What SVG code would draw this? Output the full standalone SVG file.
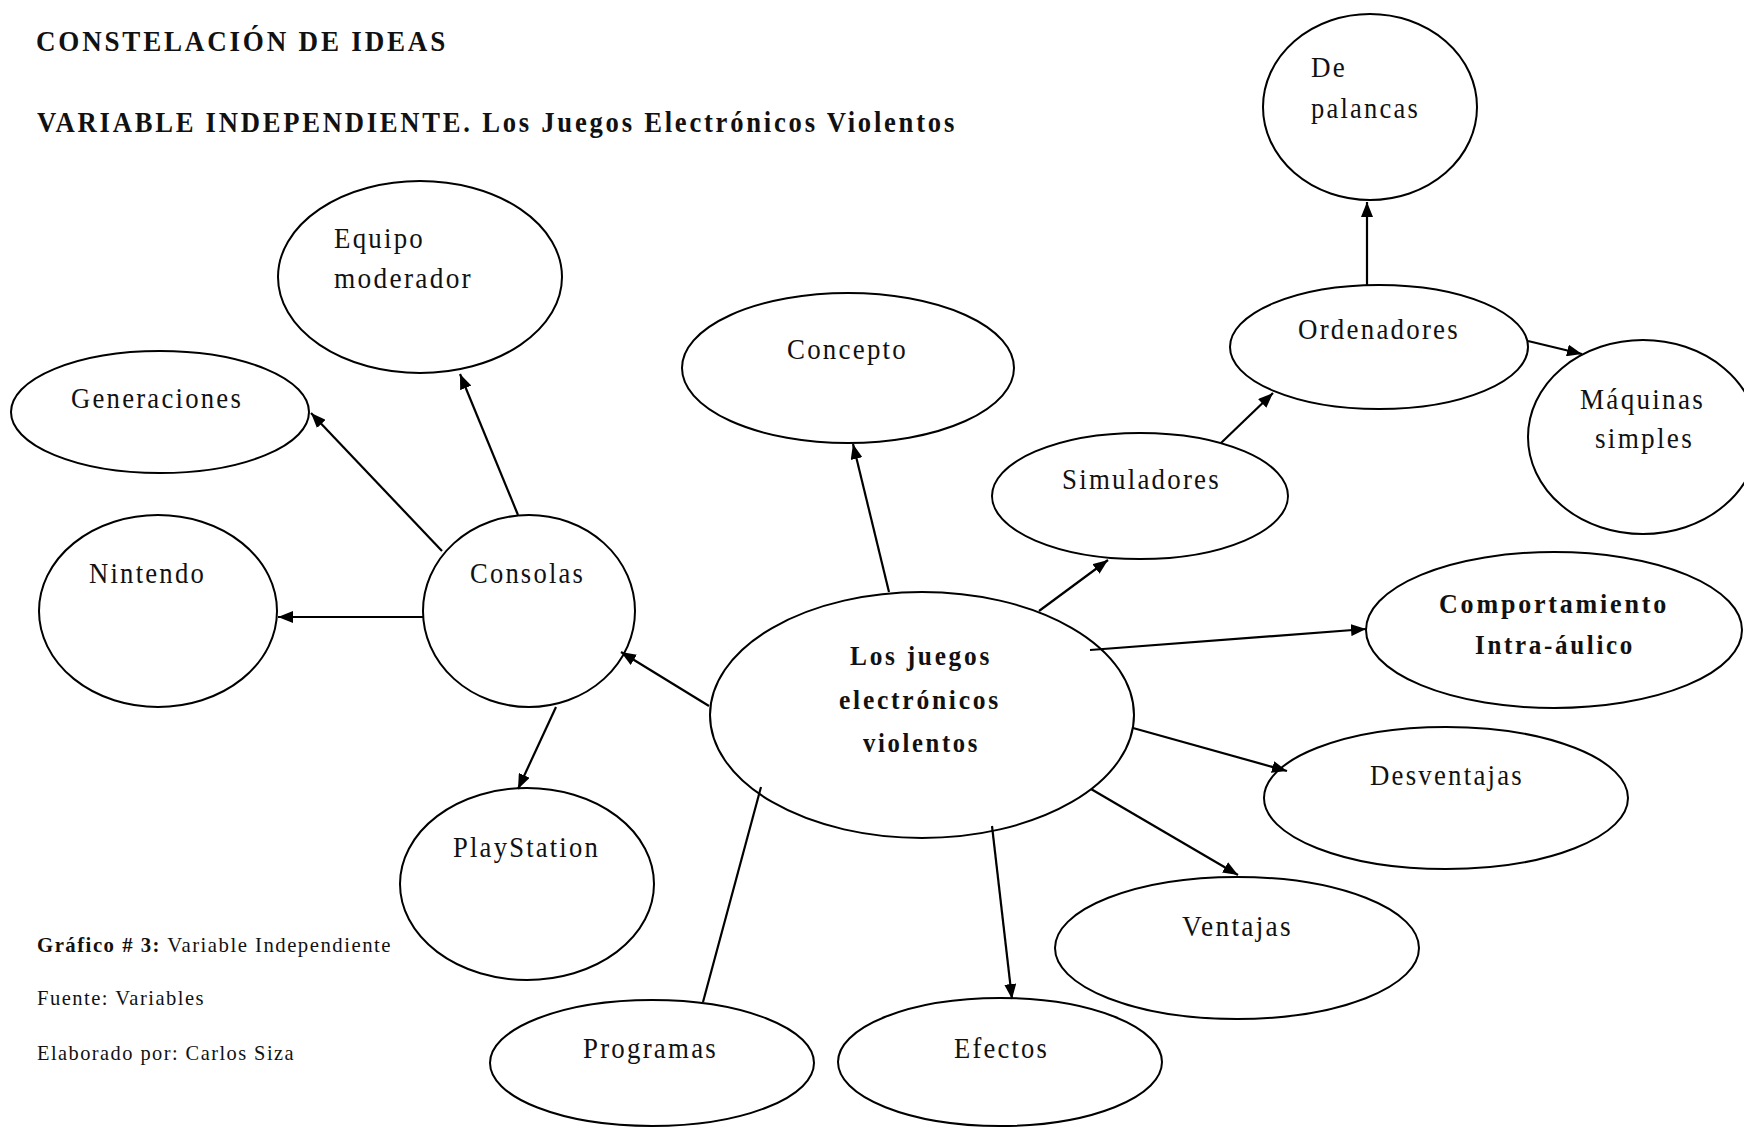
<svg xmlns="http://www.w3.org/2000/svg" width="1744" height="1128" viewBox="0 0 1744 1128">
<defs>
<style>
.n{fill:#fff;stroke:#000;stroke-width:2}
.t{font-family:"Liberation Serif","Times New Roman",serif;font-size:30px;letter-spacing:2.5px;fill:#111}
.b{font-family:"Liberation Serif","Times New Roman",serif;font-size:28px;letter-spacing:3px;font-weight:bold;fill:#111}
.h{font-family:"Liberation Serif","Times New Roman",serif;font-size:29px;letter-spacing:3px;font-weight:bold;fill:#111}
.f{font-family:"Liberation Serif","Times New Roman",serif;font-size:21px;letter-spacing:1.5px;fill:#111}
.c line{stroke:#000;stroke-width:2.2}
</style>
<marker id="ah" markerUnits="userSpaceOnUse" markerWidth="15" markerHeight="12" refX="15" refY="6" orient="auto">
<path d="M0,0 L15,6 L0,12 z" fill="#000"/>
</marker>
</defs>
<rect width="1744" height="1128" fill="#fff"/>

<g id="titles">
<text class="h" x="36" y="51" textLength="412" lengthAdjust="spacingAndGlyphs">CONSTELACIÓN DE IDEAS</text>
<text class="h" x="37" y="132" textLength="920" lengthAdjust="spacingAndGlyphs">VARIABLE INDEPENDIENTE. Los Juegos Electrónicos Violentos</text>
</g>

<g id="node-depalancas"><ellipse class="n" cx="1370" cy="107" rx="107" ry="93"/>
<text class="t" x="1311" y="77" textLength="36" lengthAdjust="spacingAndGlyphs">De</text>
<text class="t" x="1311" y="118" textLength="109" lengthAdjust="spacingAndGlyphs">palancas</text></g>

<g id="node-equipo"><ellipse class="n" cx="420" cy="277" rx="142" ry="96"/>
<text class="t" x="334" y="248" textLength="91" lengthAdjust="spacingAndGlyphs">Equipo</text>
<text class="t" x="334" y="288" textLength="139" lengthAdjust="spacingAndGlyphs">moderador</text></g>

<g id="node-concepto"><ellipse class="n" cx="848" cy="368" rx="166" ry="75"/>
<text class="t" x="787" y="359" textLength="121" lengthAdjust="spacingAndGlyphs">Concepto</text></g>

<g id="node-ordenadores"><ellipse class="n" cx="1379" cy="347" rx="149" ry="62"/>
<text class="t" x="1298" y="339" textLength="162" lengthAdjust="spacingAndGlyphs">Ordenadores</text></g>

<g id="node-maquinas"><ellipse class="n" cx="1643" cy="437" rx="115" ry="97"/>
<text class="t" x="1580" y="409" textLength="125" lengthAdjust="spacingAndGlyphs">Máquinas</text>
<text class="t" x="1595" y="448" textLength="99" lengthAdjust="spacingAndGlyphs">simples</text></g>

<g id="node-generaciones"><ellipse class="n" cx="160" cy="412" rx="149" ry="61"/>
<text class="t" x="71" y="408" textLength="172" lengthAdjust="spacingAndGlyphs">Generaciones</text></g>

<g id="node-simuladores"><ellipse class="n" cx="1140" cy="496" rx="148" ry="63"/>
<text class="t" x="1062" y="489" textLength="159" lengthAdjust="spacingAndGlyphs">Simuladores</text></g>

<g id="node-nintendo"><ellipse class="n" cx="158" cy="611" rx="119" ry="96"/>
<text class="t" x="89" y="583" textLength="117" lengthAdjust="spacingAndGlyphs">Nintendo</text></g>

<g id="node-consolas"><ellipse class="n" cx="529" cy="611" rx="106" ry="96"/>
<text class="t" x="470" y="583" textLength="115" lengthAdjust="spacingAndGlyphs">Consolas</text></g>

<g id="node-central"><ellipse class="n" cx="922" cy="715" rx="212" ry="123"/>
<text class="b" x="850" y="665" textLength="142" lengthAdjust="spacingAndGlyphs">Los juegos</text>
<text class="b" x="839" y="709" textLength="162" lengthAdjust="spacingAndGlyphs">electrónicos</text>
<text class="b" x="863" y="752" textLength="117" lengthAdjust="spacingAndGlyphs">violentos</text></g>

<g id="node-comportamiento"><ellipse class="n" cx="1554" cy="630" rx="188" ry="78"/>
<text class="b" x="1439" y="613" textLength="230" lengthAdjust="spacingAndGlyphs">Comportamiento</text>
<text class="b" x="1475" y="654" textLength="160" lengthAdjust="spacingAndGlyphs">Intra-áulico</text></g>

<g id="node-desventajas"><ellipse class="n" cx="1446" cy="798" rx="182" ry="71"/>
<text class="t" x="1370" y="785" textLength="154" lengthAdjust="spacingAndGlyphs">Desventajas</text></g>

<g id="node-playstation"><ellipse class="n" cx="527" cy="884" rx="127" ry="96"/>
<text class="t" x="453" y="857" textLength="147" lengthAdjust="spacingAndGlyphs">PlayStation</text></g>

<g id="node-ventajas"><ellipse class="n" cx="1237" cy="948" rx="182" ry="71"/>
<text class="t" x="1182" y="936" textLength="111" lengthAdjust="spacingAndGlyphs">Ventajas</text></g>

<g id="node-programas"><ellipse class="n" cx="652" cy="1063" rx="162" ry="63"/>
<text class="t" x="583" y="1058" textLength="135" lengthAdjust="spacingAndGlyphs">Programas</text></g>

<g id="node-efectos"><ellipse class="n" cx="1000" cy="1062" rx="162" ry="64"/>
<text class="t" x="954" y="1058" textLength="95" lengthAdjust="spacingAndGlyphs">Efectos</text></g>

<g id="connectors" class="c">
<line x1="1367" y1="285" x2="1367" y2="202" marker-end="url(#ah)"/>
<line x1="1528" y1="341" x2="1582" y2="354" marker-end="url(#ah)"/>
<line x1="1221" y1="443" x2="1273" y2="393" marker-end="url(#ah)"/>
<line x1="889" y1="592" x2="853" y2="444" marker-end="url(#ah)"/>
<line x1="1039" y1="611" x2="1108" y2="560" marker-end="url(#ah)"/>
<line x1="1090" y1="650" x2="1366" y2="629" marker-end="url(#ah)"/>
<line x1="1133" y1="728" x2="1287" y2="771" marker-end="url(#ah)"/>
<line x1="1091" y1="789" x2="1238" y2="875" marker-end="url(#ah)"/>
<line x1="992" y1="826" x2="1012" y2="999" marker-end="url(#ah)"/>
<line x1="761" y1="787" x2="703" y2="1002"/>
<line x1="709" y1="706" x2="621" y2="652" marker-end="url(#ah)"/>
<line x1="423" y1="617" x2="278" y2="617" marker-end="url(#ah)"/>
<line x1="442" y1="551" x2="311" y2="413" marker-end="url(#ah)"/>
<line x1="518" y1="515" x2="460" y2="374" marker-end="url(#ah)"/>
<line x1="556" y1="707" x2="518" y2="789" marker-end="url(#ah)"/>
</g>

<g id="footnote">
<text class="f" x="37" y="952" textLength="355" lengthAdjust="spacingAndGlyphs"><tspan font-weight="bold">Gráfico # 3:</tspan> Variable Independiente</text>
<text class="f" x="37" y="1005" textLength="168" lengthAdjust="spacingAndGlyphs">Fuente: Variables</text>
<text class="f" x="37" y="1060" textLength="258" lengthAdjust="spacingAndGlyphs">Elaborado por: Carlos Siza</text>
</g>
</svg>
